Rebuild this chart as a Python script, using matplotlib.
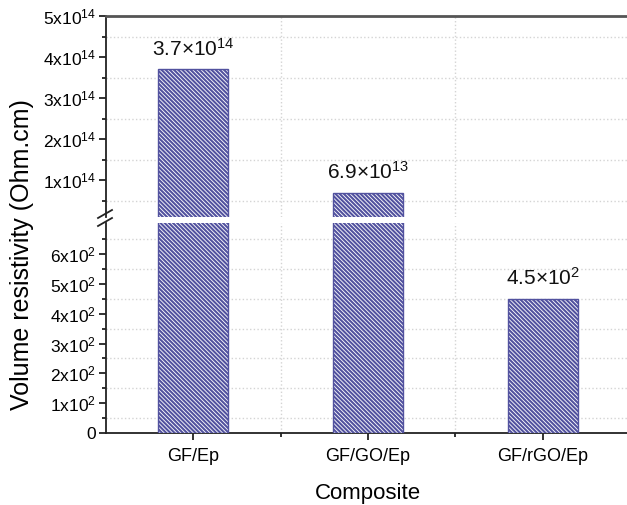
import numpy as np
import matplotlib
matplotlib.use("Agg")
import matplotlib.pyplot as plt
from matplotlib.lines import Line2D
from matplotlib.ticker import FixedLocator

plt.rcParams['font.family'] = ['Liberation Sans', 'DejaVu Sans']
plt.rcParams['mathtext.fontset'] = 'custom'
plt.rcParams['mathtext.rm'] = 'Liberation Sans'
plt.rcParams['mathtext.it'] = 'Liberation Sans'
plt.rcParams['mathtext.default'] = 'regular'
plt.rcParams['hatch.linewidth'] = 1.5

# data
composites = ['GF/Ep', 'GF/GO/Ep', 'GF/rGO/Ep']
resistivity = [3.7e14, 6.9e13, 4.5e2]
value_labels = [r'3.7$\times$10$^{14}$', r'6.9$\times$10$^{13}$', r'4.5$\times$10$^{2}$']
upper_ticks = [1e14, 2e14, 3e14, 4e14, 5e14]
upper_ticklabels = ['1x10$^{14}$', '2x10$^{14}$', '3x10$^{14}$', '4x10$^{14}$', '5x10$^{14}$']
lower_ticks = [0, 100, 200, 300, 400, 500, 600]
lower_ticklabels = ['0', '1x10$^{2}$', '2x10$^{2}$', '3x10$^{2}$', '4x10$^{2}$',
                    '5x10$^{2}$', '6x10$^{2}$']

bar_color = '#52529f'
axis_color = '#222222'
grid_color = '#d4d4d4'

fig = plt.figure(figsize=(6.27, 5.05), dpi=100)
W, H = 627, 505
left = 106 / W
right = 1.005
ax_top = fig.add_axes([left, 1 - 217 / H, right - left, (217 - 16) / H])
ax_bot = fig.add_axes([left, 1 - 433 / H, right - left, (433 - 223) / H])

x = np.arange(1, len(composites) + 1)

for ax in (ax_top, ax_bot):
    ax.bar(x, resistivity, width=0.4, color='white', edgecolor=bar_color,
           hatch='\\' * 8, linewidth=1.0, zorder=3)
    ax.set_xlim(0.5, 3.5)
    ax.xaxis.set_minor_locator(FixedLocator([1.5, 2.5]))
    ax.spines['right'].set_visible(False)
    ax.spines['left'].set_color(axis_color)
    ax.spines['left'].set_linewidth(1.3)
    ax.tick_params(axis='y', which='major', direction='out', length=5, width=1.3,
                   color=axis_color, labelsize=12.5, pad=2)
    ax.tick_params(axis='y', which='minor', direction='out', length=3, width=1.3,
                   color=axis_color)

# upper part of the broken axis
ax_top.set_ylim(0.1e14, 5e14)
ax_top.set_yticks(upper_ticks)
ax_top.set_yticklabels(upper_ticklabels)
ax_top.yaxis.set_minor_locator(FixedLocator([0.5e14, 1.5e14, 2.5e14, 3.5e14, 4.5e14]))
ax_top.spines['bottom'].set_visible(False)
ax_top.spines['top'].set_color('#555555')
ax_top.spines['top'].set_linewidth(2.0)
ax_top.tick_params(axis='x', which='both', length=0, labelbottom=False)

# lower part of the broken axis
ax_bot.set_ylim(0, 704)
ax_bot.set_yticks(lower_ticks)
ax_bot.set_yticklabels(lower_ticklabels)
ax_bot.yaxis.set_minor_locator(FixedLocator([50, 150, 250, 350, 450, 550, 650]))
ax_bot.spines['top'].set_visible(False)
ax_bot.spines['bottom'].set_color(axis_color)
ax_bot.spines['bottom'].set_linewidth(1.3)
ax_bot.set_xticks(x)
ax_bot.set_xticklabels(composites)
ax_bot.tick_params(axis='x', which='major', direction='out', length=5, width=1.3,
                   color=axis_color, labelsize=13, pad=6)
ax_bot.tick_params(axis='x', which='minor', direction='out', length=3, width=1.3,
                   color=axis_color)
ax_bot.set_xlabel('Composite', fontsize=16, labelpad=13)

# dotted grid on the minor positions only
grid_kw = dict(color=grid_color, linestyle=':', linewidth=1.0, zorder=0)
for ax in (ax_top, ax_bot):
    ax.grid(False)
    for v in ax.yaxis.get_minorticklocs():
        ax.axhline(v, **grid_kw)
    for v in ax_bot.xaxis.get_minorticklocs():
        ax.axvline(v, **grid_kw)

# value labels above bars
for xi, val, lab in zip(x, resistivity, value_labels):
    target = ax_top if val > 1e3 else ax_bot
    target.annotate(lab, xy=(xi, val), xytext=(0, 7), textcoords='offset points',
                    ha='center', va='bottom', fontsize=15, color='#111111')

fig.text(22 / W, 1 - 255 / H, 'Volume resistivity (Ohm.cm)', rotation=90,
         ha='center', va='center', fontsize=18)

# break marks on the y axis
for yc in (214, 222):
    fig.add_artist(Line2D([(left * W - 8) / W, (left * W + 6) / W],
                          [1 - (yc + 4) / H, 1 - (yc - 4) / H],
                          transform=fig.transFigure, color=axis_color, linewidth=1.3))

fig.savefig('out.png', dpi=100)
